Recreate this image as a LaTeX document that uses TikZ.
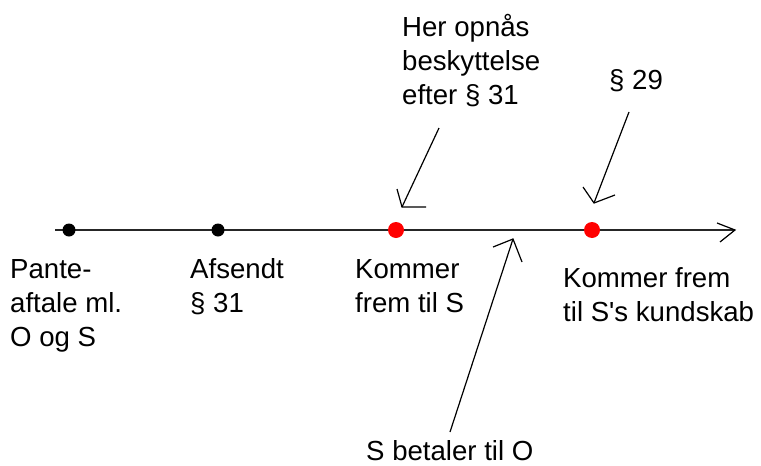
\documentclass[tikz,border=0pt]{standalone}
\usepackage{fontspec}
\newfontfamily\labfont{Liberation Sans}
\begin{document}
\begin{tikzpicture}[x=1pt,y=-1pt,
  lbl/.style={anchor=base west,inner sep=0pt,align=left,font=\labfont\fontsize{27.6}{34}\selectfont},
  bdot/.style={circle,fill=black,inner sep=0pt,minimum size=13pt},
  rdot/.style={circle,fill=red,inner sep=0pt,minimum size=16pt},
  axis/.style={line width=1.6pt,draw=black!85},
  hand/.style={line width=1.2pt,draw=black}]
\useasboundingbox (0,0) rectangle (761,466);
% axis
\coordinate (ax0) at (55,230);
\coordinate (ax1) at (735,230);
\coordinate (axb1) at (717,223);
\coordinate (axb2) at (720,242);
\draw[axis] (ax0) -- (ax1);
\draw[hand] (axb1) -- (ax1) -- (axb2);
% dots
\node[bdot] (d1) at (69,230) {};
\node[bdot] (d2) at (218,230) {};
\node[rdot] (d3) at (396,230) {};
\node[rdot] (d4) at (592,230) {};
% labels (anchor = baseline of last line)
\node[lbl] (t1) at (402,104) {Her opnås\\beskyttelse\\efter § 31};
\node[lbl] (t2) at (609,89) {§ 29};
\node[lbl] (l1) at (10,346) {Pante-\\aftale ml.\\O og S};
\node[lbl] (l2) at (190,312) {Afsendt\\§ 31};
\node[lbl] (l3) at (355,312) {Kommer\\frem til S};
\node[lbl] (l4) at (563,321) {Kommer frem\\til S's kundskab};
\node[lbl] (l5) at (366,460) {S betaler til O};
% arrow 1
\coordinate (a1s) at (439,128);
\coordinate (a1t) at (402,207);
\coordinate (a1b1) at (426,207);
\coordinate (a1b2) at (397,189);
\draw[hand] (a1s) -- (a1t);
\draw[hand] (a1b1) -- (a1t) -- (a1b2);
% arrow 2
\coordinate (a2s) at (629,112);
\coordinate (a2t) at (594,203);
\coordinate (a2b1) at (583,187);
\coordinate (a2b2) at (615,195);
\draw[hand] (a2s) -- (a2t);
\draw[hand] (a2b1) -- (a2t) -- (a2b2);
% arrow 3
\coordinate (a3s) at (450,432);
\coordinate (a3t) at (513,239);
\coordinate (a3b1) at (493,247);
\coordinate (a3b2) at (522,262);
\draw[hand] (a3s) -- (a3t);
\draw[hand] (a3b1) -- (a3t) -- (a3b2);
\end{tikzpicture}
\end{document}
